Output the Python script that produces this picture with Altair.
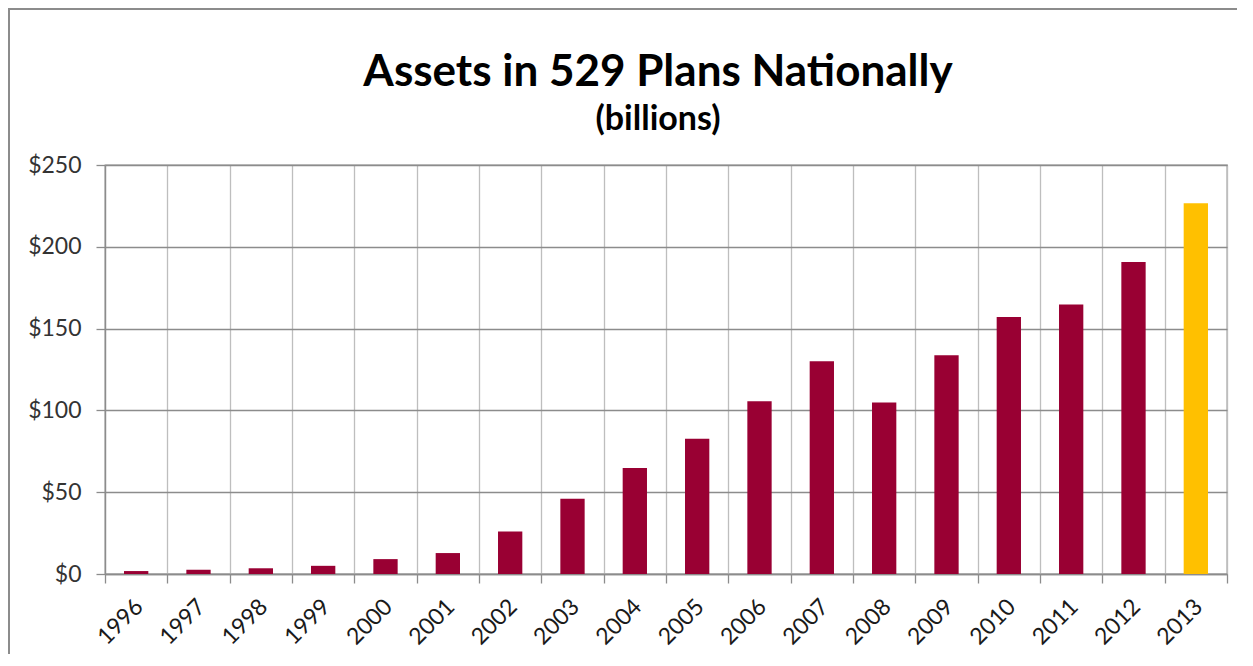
import altair as alt
import pandas as pd

years = ["1996", "1997", "1998", "1999", "2000", "2001", "2002", "2003", "2004",
         "2005", "2006", "2007", "2008", "2009", "2010", "2011", "2012", "2013"]
assets = [1.8, 2.6, 3.5, 5.0, 9.1, 12.8, 26.0, 46.0, 64.8, 82.6, 105.6, 130.0,
          104.9, 133.7, 157.1, 164.8, 190.7, 226.6]
colors = ["#990033"] * 17 + ["#FFC000"]

df = pd.DataFrame({"year": years, "assets": assets, "color": colors})

FONT = "Lato"

bars = alt.Chart(df).mark_bar(width=alt.RelativeBandSize(0.39)).encode(
    x=alt.X("year:N", sort=years, title=None,
            scale=alt.Scale(paddingInner=0, paddingOuter=0),
            axis=alt.Axis(labelAngle=-45, tickBand="extent", grid=True,
                          gridColor="#BEBEBE", gridWidth=1.3,
                          tickColor="#8C8C8C", tickSize=9, tickWidth=1.3,
                          domainColor="#8C8C8C", domainWidth=1.3,
                          labelFont=FONT, labelFontSize=23, labelColor="#1A1A1A",
                          labelPadding=12, labelOffset=-5)),
    y=alt.Y("assets:Q", title=None,
            scale=alt.Scale(domain=[0, 250], nice=False),
            axis=alt.Axis(values=[0, 50, 100, 150, 200, 250], format="$,.0f",
                          grid=True, gridColor="#8C8C8C", gridWidth=1.3,
                          tickColor="#8C8C8C", tickSize=9, tickWidth=1.3,
                          domainColor="#8C8C8C", domainWidth=1.3,
                          labelFont=FONT, labelFontSize=23, labelColor="#333333",
                          labelPadding=15)),
    color=alt.Color("color:N", scale=None, legend=None),
)

border = alt.Chart(df).mark_rect(fill=None, stroke="#8C8C8C", strokeWidth=2.5).encode(
    x=alt.value(-97), x2=alt.value(1200),
    y=alt.value(-157), y2=alt.value(600),
)

chart = alt.layer(bars, border).properties(
    width=1122, height=409,
    padding={"left": 97, "top": 157, "right": 10, "bottom": 80},
    autosize="none",
    title=alt.TitleParams(
        text="Assets in 529 Plans Nationally",
        subtitle="(billions)",
        font=FONT, fontSize=44, fontWeight="bold", color="#000000",
        subtitleFont=FONT, subtitleFontSize=34, subtitleFontWeight="bold",
        subtitleColor="#000000", subtitlePadding=8,
        anchor="middle", offset=-130, dx=-8,
    ),
).configure_view(stroke="#8C8C8C", strokeWidth=1.3)

chart.save("out.html", embed_options={"renderer": "svg", "actions": False})
